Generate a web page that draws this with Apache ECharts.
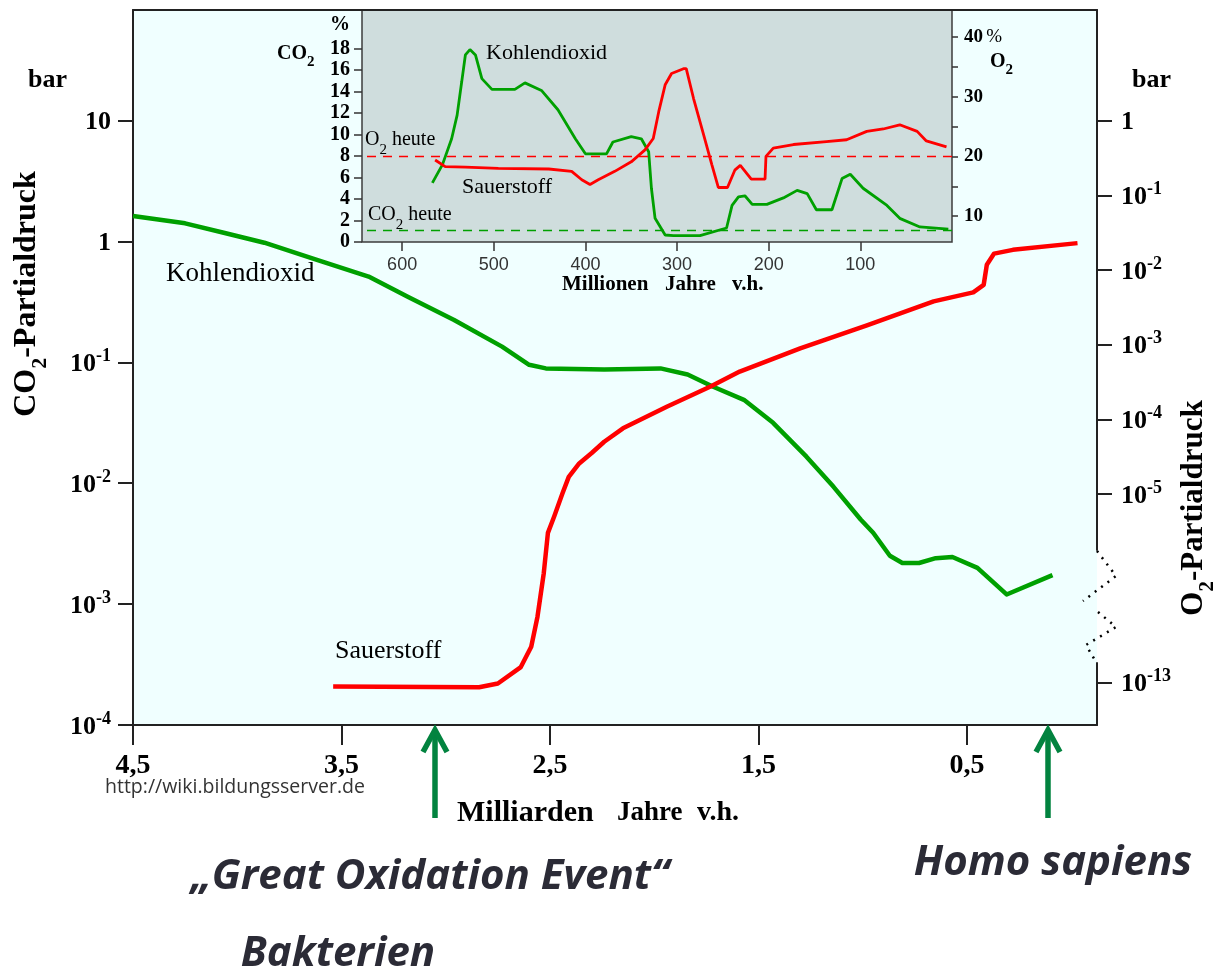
<!DOCTYPE html>
<html>
<head>
<meta charset="utf-8">
<title>CO2- und O2-Partialdruck</title>
<script src="https://cdn.jsdelivr.net/npm/echarts@6/dist/echarts.min.js"></script>
<style>
  html, body { margin: 0; padding: 0; background: #fff; }
  #chart { width: 1216px; height: 971px; }
</style>
</head>
<body>
<div id="chart"></div>
<script>
// Hauptdiagramm: Alter in Milliarden Jahren, Druck als Zehnerpotenz (log10 bar)
var mainCo2Age = [4.5, 4.25, 4.06, 3.87, 3.64, 3.37, 3.18, 2.96, 2.73, 2.6, 2.52, 2.24, 1.97, 1.84, 1.72, 1.57, 1.43, 1.27, 1.14, 1.01, 0.95, 0.87, 0.81, 0.73, 0.65, 0.57, 0.45, 0.31, 0.09];
var mainCo2Exp = [0.21, 0.15, 0.07, -0.01, -0.14, -0.29, -0.46, -0.65, -0.87, -1.02, -1.05, -1.06, -1.05, -1.1, -1.2, -1.31, -1.5, -1.78, -2.03, -2.3, -2.41, -2.6, -2.66, -2.66, -2.62, -2.61, -2.7, -2.92, -2.76];
var mainO2Age = [3.54, 2.84, 2.75, 2.64, 2.59, 2.56, 2.53, 2.51, 2.48, 2.44, 2.41, 2.36, 2.3, 2.24, 2.15, 1.94, 1.73, 1.59, 1.3, 0.98, 0.66, 0.47, 0.42, 0.405, 0.37, 0.28, -0.03];
var mainO2Exp = [-13.05, -13.06, -13.01, -12.79, -11.73, -9.87, -7.19, -5.52, -5.3, -4.99, -4.77, -4.59, -4.45, -4.3, -4.12, -3.83, -3.56, -3.36, -3.05, -2.74, -2.42, -2.3, -2.2, -1.93, -1.78, -1.73, -1.64];

// Ausschnitt: Millionen Jahre, Anteil in %
var insetCo2Ma = [567, 556, 546, 540, 535, 531, 526, 520, 513, 502, 477, 466, 448, 430, 411, 400, 377, 370, 350, 339, 331, 328, 324, 313, 304, 275, 246, 240, 233, 226, 218, 202, 184, 169, 158, 148, 131, 120, 111, 97, 71, 57, 35, 4];
var insetCo2Pct = [5.5, 7.2, 9.6, 11.8, 14.9, 17.4, 17.9, 17.4, 15.2, 14.2, 14.2, 14.8, 14.1, 12.3, 9.6, 8.2, 8.2, 9.3, 9.8, 9.6, 8.4, 5.0, 2.2, 0.65, 0.6, 0.6, 1.3, 3.4, 4.2, 4.3, 3.5, 3.5, 4.1, 4.8, 4.5, 3.0, 3.0, 5.9, 6.3, 5.0, 3.4, 2.2, 1.4, 1.2];
var insetO2Ma = [564, 553, 531, 495, 440, 415, 404, 395, 386, 368, 350, 335, 326, 320, 313, 306, 293, 290, 282, 271, 262, 255, 245, 237, 231, 219, 204, 203, 195, 173, 137, 115, 93, 75, 57, 38, 28, 6];
var insetO2Pct = [19.4, 18.3, 18.2, 18.0, 17.9, 17.5, 16.1, 15.3, 16.1, 17.5, 19.1, 21.1, 23.0, 27.5, 32.0, 33.9, 34.7, 34.7, 29.7, 23.6, 18.6, 14.8, 14.8, 17.7, 18.5, 16.2, 16.2, 20.0, 21.4, 22.0, 22.5, 22.8, 24.2, 24.6, 25.3, 24.2, 22.6, 21.6];
var co2Today = 1.1;
var o2Today = 20.1;

// Achsenbeschriftungen
var ageTicks = [4.5, 3.5, 2.5, 1.5, 0.5];
var co2ExpTicks = [1, 0, -1, -2, -3, -4];
var o2ExpTicks = [0, -1, -2, -3, -4, -5, -13];
var maTicks = [600, 500, 400, 300, 200, 100];
var co2PctTicks = [0, 2, 4, 6, 8, 10, 12, 14, 16, 18];
var o2PctTicks = [10, 15, 20, 25, 30, 35, 40];
var o2PctLabels = [10, 20, 30, 40];

var SERIF = "'Liberation Serif', 'Times New Roman', serif";
var SANS = "'Liberation Sans', Arial, sans-serif";
var NOTE_FONT = "'Open Sans', 'Noto Sans', sans-serif";
var GREEN = '#00a000';
var RED = '#ff0000';
var ARROW = '#02833f';
var NOTE = '#2b2b36';

function pairs(xs, ys) {
    return xs.map(function (x, i) { return [x, ys[i]]; });
}

var powRich = {
    m: {fontFamily: SERIF, fontWeight: 'bold', fontSize: 26, lineHeight: 30, verticalAlign: 'bottom', color: '#000'},
    s: {fontFamily: SERIF, fontWeight: 'bold', fontSize: 18, lineHeight: 18, verticalAlign: 'top', color: '#000'}
};
function powLabel(v) {
    if (v === 1) return '{m|10}';
    if (v === 0) return '{m|1}';
    return '{m|10}{s|' + v + '}';
}

var axisLine = {show: true, onZero: false, lineStyle: {color: '#222', width: 2}};
var noSplit = {show: false};

function txt(x, y, text, st, extra) {
    var o = {type: 'text', x: x, y: y, silent: true, z: 50,
        style: Object.assign({text: text, fill: '#000', align: 'left', verticalAlign: 'middle',
            fontFamily: SERIF, fontSize: 20}, st)};
    return Object.assign(o, extra || {});
}
function subRich(size, subSize, weight, lh) {
    return {
        a: {fontFamily: SERIF, fontWeight: weight, fontSize: size, lineHeight: lh, verticalAlign: 'top', fill: '#000'},
        s: {fontFamily: SERIF, fontWeight: weight, fontSize: subSize, lineHeight: subSize, verticalAlign: 'bottom', fill: '#000'}
    };
}
function note(x, y, text) {
    return txt(x, y, text, {align: 'center', fontFamily: NOTE_FONT, fontWeight: 'bold', fontStyle: 'italic', fontSize: 42, fill: NOTE});
}
function arrow(x) {
    return [
        {type: 'polyline', silent: true, z: 50, shape: {points: [[x, 734], [x, 818]]},
            style: {stroke: ARROW, lineWidth: 5.5, fill: null}},
        {type: 'polyline', silent: true, z: 50, shape: {points: [[x - 12, 752], [x, 730], [x + 12, 752]]},
            style: {stroke: ARROW, lineWidth: 5.5, fill: null, lineJoin: 'miter'}}
    ];
}

var chart = echarts.init(document.getElementById('chart'));
var option = {
    animation: false,
    backgroundColor: '#fff',
    grid: [
        {left: 133, top: 10, width: 964, height: 715, show: true, backgroundColor: '#f0ffff', borderWidth: 0, outerBoundsMode: 'none'},
        {left: 362, top: 10, width: 590, height: 232, show: true, backgroundColor: '#cfdddd', borderColor: '#3c3c3c', borderWidth: 1.5, outerBoundsMode: 'none'}
    ],
    xAxis: [
        {gridIndex: 0, type: 'value', inverse: true, min: -0.1235, max: 4.5, axisLine: axisLine,
            axisTick: {show: true, customValues: ageTicks, length: 20, lineStyle: {color: '#222', width: 2}},
            axisLabel: {customValues: ageTicks, margin: 27, fontFamily: SERIF, fontWeight: 'bold', fontSize: 28, color: '#000',
                formatter: function (v) { return String(v).replace('.', ','); }},
            splitLine: noSplit},
        {gridIndex: 0, type: 'value', position: 'top', inverse: true, min: -0.1235, max: 4.5, axisLine: axisLine,
            axisTick: {show: false}, axisLabel: {show: false}, splitLine: noSplit},
        {gridIndex: 1, type: 'value', inverse: true, min: 0, max: 643.8, axisLine: {show: false, onZero: false},
            axisTick: {show: true, customValues: maTicks, length: 9, lineStyle: {color: '#333', width: 1.5}},
            axisLabel: {customValues: maTicks, margin: 14, fontFamily: SANS, fontSize: 18, color: '#333'},
            splitLine: noSplit}
    ],
    yAxis: [
        {gridIndex: 0, type: 'value', position: 'left', min: -4, max: 1.915, axisLine: axisLine,
            axisTick: {show: true, customValues: co2ExpTicks, length: 15, lineStyle: {color: '#222', width: 2}},
            axisLabel: {customValues: co2ExpTicks, margin: 22, formatter: powLabel, rich: powRich},
            splitLine: noSplit},
        {gridIndex: 0, type: 'value', position: 'right', min: -13.566, max: 1.482, axisLine: axisLine,
            breaks: [{start: -12.736, end: -5.75, gap: '15.8%'}],
            breakArea: {show: true, expandOnClick: false,
                itemStyle: {color: 'rgba(0,0,0,0)', borderColor: 'rgba(0,0,0,0)', borderWidth: 0}},
            axisTick: {show: true, customValues: o2ExpTicks, length: 15, lineStyle: {color: '#222', width: 2}},
            axisLabel: {customValues: o2ExpTicks, margin: 24, formatter: powLabel, rich: powRich},
            splitLine: noSplit},
        {gridIndex: 1, type: 'value', position: 'left', min: 0, max: 21.58, axisLine: {show: false, onZero: false},
            axisTick: {show: true, customValues: co2PctTicks, length: 8, lineStyle: {color: '#333', width: 1.5}},
            axisLabel: {customValues: co2PctTicks, margin: 12, fontFamily: SERIF, fontWeight: 'bold', fontSize: 20, color: '#000'},
            splitLine: noSplit},
        {gridIndex: 1, type: 'value', position: 'right', min: 5.67, max: 44.53, axisLine: {show: false, onZero: false},
            axisTick: {show: true, customValues: o2PctTicks, length: 6, lineStyle: {color: '#333', width: 1.5}},
            axisLabel: {customValues: o2PctLabels, margin: 12,
                formatter: function (v) { return v === 40 ? '{n|40} {p|%}' : '{n|' + v + '}'; },
                rich: {n: {fontFamily: SERIF, fontWeight: 'bold', fontSize: 19, color: '#000'},
                       p: {fontFamily: SERIF, fontSize: 19, color: '#000'}}},
            splitLine: noSplit}
    ],
    series: [
        {name: 'Kohlendioxid', type: 'line', xAxisIndex: 0, yAxisIndex: 0, data: pairs(mainCo2Age, mainCo2Exp),
            symbol: 'none', color: GREEN, lineStyle: {color: GREEN, width: 4.5, join: 'round'}},
        {name: 'Sauerstoff', type: 'line', xAxisIndex: 0, yAxisIndex: 1, data: pairs(mainO2Age, mainO2Exp),
            symbol: 'none', color: RED, lineStyle: {color: RED, width: 4.5, join: 'round'}},
        {name: 'Kohlendioxid %', type: 'line', xAxisIndex: 2, yAxisIndex: 2, data: pairs(insetCo2Ma, insetCo2Pct),
            symbol: 'none', color: GREEN, lineStyle: {color: GREEN, width: 2.8},
            markLine: {silent: true, symbol: 'none', label: {show: false},
                lineStyle: {color: GREEN, type: [9, 7], width: 1.3}, data: [{yAxis: co2Today}]}},
        {name: 'Sauerstoff %', type: 'line', xAxisIndex: 2, yAxisIndex: 3, data: pairs(insetO2Ma, insetO2Pct),
            symbol: 'none', color: RED, lineStyle: {color: RED, width: 2.8},
            markLine: {silent: true, symbol: 'none', label: {show: false},
                lineStyle: {color: RED, type: [9, 7], width: 1.3}, data: [{yAxis: o2Today}]}}
    ],
    graphic: [
        txt(28, 80, 'bar', {fontWeight: 'bold', fontSize: 26}),
        txt(1132, 80, 'bar', {fontWeight: 'bold', fontSize: 26}),
        txt(31, 294, '{a|CO}{s|2}{a|-Partialdruck}', {align: 'center', rich: subRich(32, 22, 'bold', 40)}, {rotation: Math.PI / 2}),
        txt(1198, 508, '{a|O}{s|2}{a|-Partialdruck}', {align: 'center', rich: subRich(31, 21, 'bold', 40)}, {rotation: Math.PI / 2}),
        txt(166, 274, 'Kohlendioxid', {fontSize: 27}),
        txt(335, 651, 'Sauerstoff', {fontSize: 26}),
        txt(486, 53, 'Kohlendioxid', {fontSize: 22}),
        txt(462, 187, 'Sauerstoff', {fontSize: 22}),
        txt(365, 144, '{a|O}{s|2}{a| heute}', {rich: subRich(20, 15, 'normal', 28)}),
        txt(368, 219, '{a|CO}{s|2}{a| heute}', {rich: subRich(20, 15, 'normal', 28)}),
        txt(330, 25, '%', {fontWeight: 'bold', fontSize: 20}),
        txt(277, 57, '{a|CO}{s|2}', {rich: subRich(20, 15, 'bold', 26)}),
        txt(990, 65, '{a|O}{s|2}', {rich: subRich(20, 15, 'bold', 26)}),
        txt(562, 285, 'Millionen', {fontWeight: 'bold', fontSize: 21}),
        txt(665, 285, 'Jahre', {fontWeight: 'bold', fontSize: 21}),
        txt(732, 285, 'v.h.', {fontWeight: 'bold', fontSize: 21}),
        txt(457, 813, 'Milliarden', {fontWeight: 'bold', fontSize: 30}),
        txt(617, 813, 'Jahre', {fontWeight: 'bold', fontSize: 27}),
        txt(697, 813, 'v.h.', {fontWeight: 'bold', fontSize: 28}),
        txt(105, 787, 'http://wiki.bildungsserver.de', {fontFamily: NOTE_FONT, fontSize: 19.5, fill: '#333'}),
        note(430, 877, '\u201eGreat Oxidation Event\u201c'),
        note(338, 954, 'Bakterien'),
        note(1053, 863, 'Homo sapiens'),
        {type: 'polyline', silent: true, z: 50, shape: {points: [[1097, 551], [1116, 576], [1083, 601]]},
            style: {stroke: '#000', lineWidth: 2.5, lineDash: [2, 6], fill: null}},
        {type: 'polyline', silent: true, z: 50, shape: {points: [[1098, 612], [1116, 627], [1086, 645], [1096, 662]]},
            style: {stroke: '#000', lineWidth: 2.5, lineDash: [2, 6], fill: null}}
    ].concat(arrow(435), arrow(1048))
};
chart.setOption(option);
</script>
</body>
</html>
